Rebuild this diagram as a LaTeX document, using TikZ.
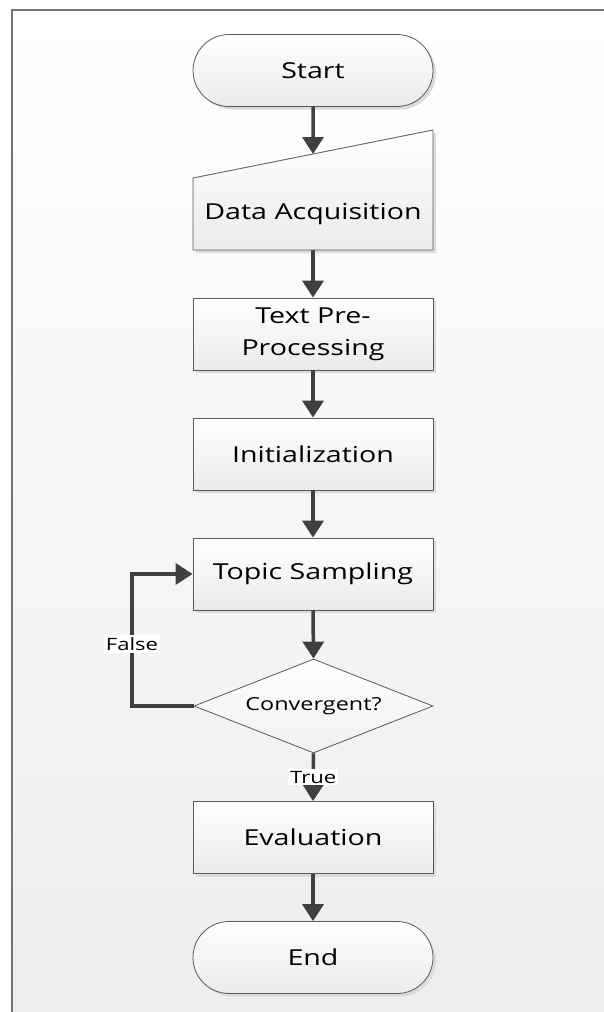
\documentclass[tikz,border=0pt]{standalone}
\usepackage{fontspec}
\setmainfont{Open Sans}[FakeStretch=1.3]
\usetikzlibrary{shapes.geometric,shapes.misc,arrows.meta,shadows}
\begin{document}
\begin{tikzpicture}[x=1pt,y=-1pt,
  boxfill/.style={draw=black!65, line width=0.8pt, top color=white, bottom color=black!8},
  shad/.style={drop shadow={shadow xshift=3pt, shadow yshift=-3pt, fill=black!14, opacity=1}},
  proc/.style={rectangle, boxfill, shad, minimum width=240pt, minimum height=72pt, inner sep=0pt, align=center, font=\fontsize{22}{32}\selectfont},
  term/.style={rounded rectangle, boxfill, shad, minimum width=240pt, minimum height=72pt, inner sep=0pt, font=\fontsize{22}{32}\selectfont},
  plain/.style={rectangle, minimum width=240pt, minimum height=72pt, inner sep=0pt, font=\fontsize{22}{32}\selectfont},
  dec/.style={diamond, aspect=2.5, draw=black!65, line width=0.8pt, top color=white, bottom color=black!6, minimum width=239pt, minimum height=94pt, inner sep=2pt, font=\fontsize{18}{22}\selectfont},
  arr/.style={line width=3.5pt, draw=black!75, -{Triangle[length=17pt,width=21pt]}},
  lbl/.style={fill=white, inner sep=2pt, font=\fontsize{17}{20}\selectfont}
]
\useasboundingbox (0,0) rectangle (603,1012);
\fill[white] (0,0) rectangle (603,1012);
\shade[top color=white, bottom color=black!7] (12,10) rectangle (610,1020);
\draw[black!55, line width=1.5pt] (12,1020) -- (12,10) -- (610,10);

% Start
\node[term] (start) at (313,70.5) {Start};
% Data acquisition (manual input)
\path[boxfill, shad] (193,178) -- (433,130) -- (433,250) -- (193,250) -- cycle;
\node[plain] (da) at (313,214) {Data Acquisition};
\coordinate (datop) at (313,154);
% processes
\node[proc] (tp) at (313,334) {Text Pre-\\Processing};
\node[proc] (init) at (313,454) {Initialization};
\node[proc] (ts) at (313,574) {Topic Sampling};
\node[dec] (cv) at (313.5,706) {Convergent?};
\node[proc] (ev) at (313,837.5) {Evaluation};
\node[term] (end) at (313,957.5) {End};

\draw[arr] (start) -- (datop);
\draw[arr] (da.south) -- (tp.north);
\draw[arr] (tp) -- (init);
\draw[arr] (init) -- (ts);
\draw[arr] (ts.south) -- (cv.north);
\draw[arr] (cv.west) -- (132,706) -- node[lbl, pos=0.47] {False} (132,574) -- (ts.west);
\draw[arr] (cv.south) -- node[lbl] {True} (ev.north);
\draw[arr] (ev) -- (end);
\end{tikzpicture}
\end{document}
